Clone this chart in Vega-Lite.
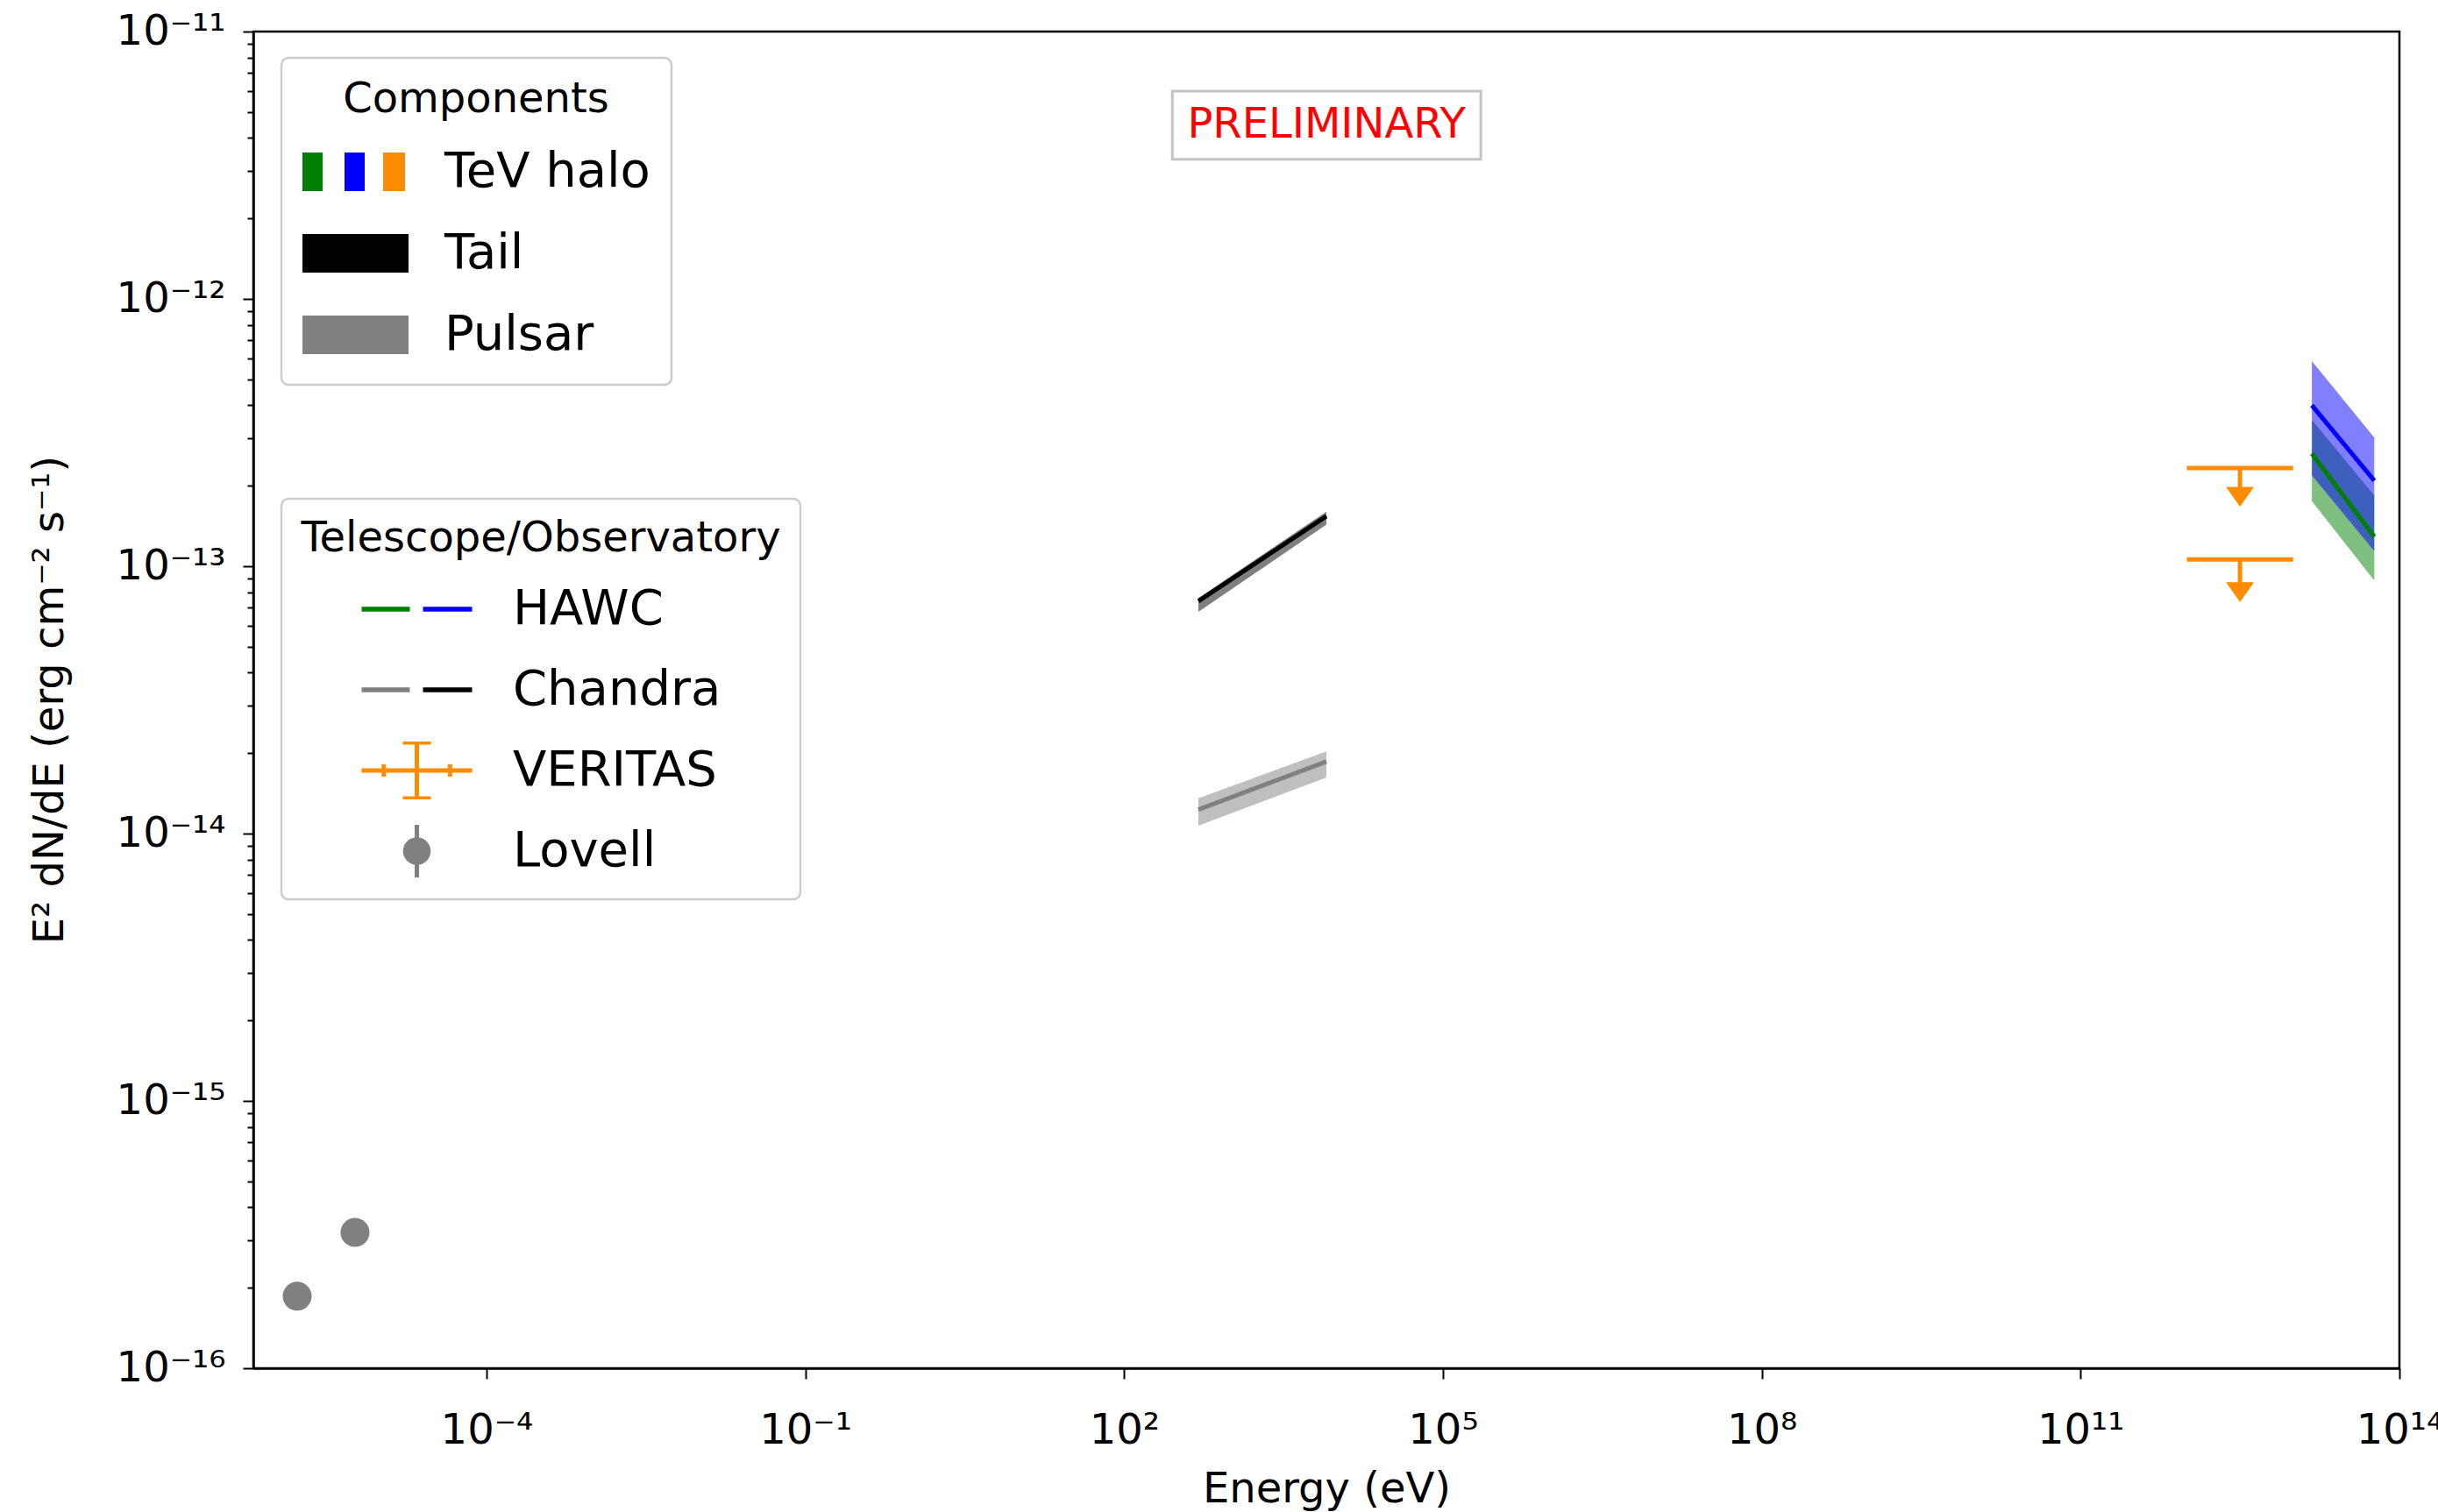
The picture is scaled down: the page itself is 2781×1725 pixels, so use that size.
{
  "$schema": "https://vega.github.io/schema/vega-lite/v6.json",
  "width": 2448,
  "height": 1525,
  "autosize": {"type": "none"},
  "padding": {"left": 289, "top": 36, "right": 44, "bottom": 164},
  "background": "white",
  "config": {
    "font": "DejaVu Sans",
    "view": {"stroke": "black", "strokeWidth": 2.5},
    "axis": {
      "domainColor": "black", "domainWidth": 2.5, "tickColor": "black", "tickWidth": 2,
      "labelColor": "black", "labelFont": "DejaVu Sans", "labelFontSize": 48,
      "titleFont": "DejaVu Sans", "titleFontSize": 48, "titleFontWeight": "normal", "titleColor": "black",
      "grid": false, "labelFlush": false, "labelOverlap": false
    }
  },
  "datasets": {
    "bands": [
      {"series": "HAWC A", "E": 1.5e13, "lo": 1.75e-13, "hi": 3.53e-13},
      {"series": "HAWC A", "E": 5.8e13, "lo": 8.85e-14, "hi": 1.84e-13},
      {"series": "HAWC B", "E": 1.5e13, "lo": 2.19e-13, "hi": 5.85e-13},
      {"series": "HAWC B", "E": 5.8e13, "lo": 1.14e-13, "hi": 3.03e-13},
      {"series": "Chandra tail", "E": 500, "lo": 6.75e-14, "hi": 7.6e-14},
      {"series": "Chandra tail", "E": 8000, "lo": 1.43e-13, "hi": 1.6e-13},
      {"series": "Chandra pulsar", "E": 500, "lo": 1.07e-14, "hi": 1.355e-14},
      {"series": "Chandra pulsar", "E": 8000, "lo": 1.62e-14, "hi": 2.03e-14}
    ],
    "lines": [
      {"series": "HAWC A", "E": 1.5e13, "F": 2.64e-13},
      {"series": "HAWC A", "E": 5.8e13, "F": 1.29e-13},
      {"series": "HAWC B", "E": 1.5e13, "F": 4.0e-13},
      {"series": "HAWC B", "E": 5.8e13, "F": 2.09e-13},
      {"series": "Chandra tail", "E": 500, "F": 7.4e-14},
      {"series": "Chandra tail", "E": 8000, "F": 1.54e-13},
      {"series": "Chandra pulsar", "E": 500, "F": 1.23e-14},
      {"series": "Chandra pulsar", "E": 8000, "F": 1.86e-14}
    ],
    "veritas": [
      {"E": 3.16e12, "E_lo": 1e12, "E_hi": 1e13, "F_ul": 2.33e-13, "F_arrow": 1.82e-13},
      {"E": 3.16e12, "E_lo": 1e12, "E_hi": 1e13, "F_ul": 1.06e-13, "F_arrow": 8.0e-14}
    ],
    "lovell": [
      {"E": 1.654e-6, "F": 1.86e-16},
      {"E": 5.79e-6, "F": 3.22e-16}
    ],
    "components": [{"component": "TeV halo"}, {"component": "Tail"}, {"component": "Pulsar"}],
    "telescopes": [{"telescope": "HAWC"}, {"telescope": "Chandra"}, {"telescope": "VERITAS"}, {"telescope": "Lovell"}],
    "label": [{"text": "PRELIMINARY"}]
  },
  "layer": [
    {
      "data": {"name": "bands"},
      "mark": {"type": "area", "opacity": 0.5},
      "encoding": {
        "x": {
          "field": "E", "type": "quantitative",
          "scale": {"type": "log", "domain": [6.4e-7, 1e14], "nice": false},
          "axis": {
            "orient": "bottom",
            "values": [1e-4, 1e-1, 1e2, 1e5, 1e8, 1e11, 1e14],
            "labelExpr": "['10⁻⁴','10⁻¹','10²','10⁵','10⁸','10¹¹','10¹⁴'][round((log(datum.value)/LN10+4)/3)]",
            "tickSize": 12, "labelPadding": 35,
            "title": "Energy (eV)", "titleY": 138, "titleBaseline": "middle", "titleAlign": "center"
          }
        },
        "y": {
          "field": "lo", "type": "quantitative",
          "scale": {"type": "log", "domain": [1e-16, 1e-11], "nice": false},
          "axis": {
            "orient": "left",
            "values": [1e-16, 1e-15, 1e-14, 1e-13, 1e-12, 1e-11],
            "labelExpr": "['10⁻¹⁶','10⁻¹⁵','10⁻¹⁴','10⁻¹³','10⁻¹²','10⁻¹¹'][round(log(datum.value)/LN10)+16]",
            "tickSize": 12, "labelPadding": 20,
            "title": "E² dN/dE (erg cm⁻² s⁻¹)",
            "titleX": -232, "titleY": 762, "titleAngle": -90, "titleBaseline": "middle", "titleAlign": "center", "titleLimit": 2000
          }
        },
        "y2": {"field": "hi"},
        "color": {
          "field": "series", "type": "nominal",
          "scale": {
            "domain": ["HAWC A", "HAWC B", "Chandra tail", "Chandra pulsar"],
            "range": ["#008000", "#0000ff", "#000000", "#808080"]
          },
          "legend": null
        }
      }
    },
    {
      "data": {"name": "lines"},
      "mark": {"type": "line", "strokeWidth": 5},
      "encoding": {
        "x": {"field": "E", "type": "quantitative"},
        "y": {
          "field": "F", "type": "quantitative",
          "axis": {
            "orient": "left", "title": null, "labels": false, "domain": false, "tickSize": 7,
            "values": [2e-16,3e-16,4e-16,5e-16,6e-16,7e-16,8e-16,9e-16,
                       2e-15,3e-15,4e-15,5e-15,6e-15,7e-15,8e-15,9e-15,
                       2e-14,3e-14,4e-14,5e-14,6e-14,7e-14,8e-14,9e-14,
                       2e-13,3e-13,4e-13,5e-13,6e-13,7e-13,8e-13,9e-13,
                       2e-12,3e-12,4e-12,5e-12,6e-12,7e-12,8e-12,9e-12]
          }
        },
        "color": {"field": "series", "type": "nominal", "legend": null}
      }
    },
    {
      "data": {"name": "veritas"},
      "mark": {"type": "rule", "color": "#ff8c00", "strokeWidth": 5},
      "encoding": {
        "x": {"field": "E_lo", "type": "quantitative"},
        "x2": {"field": "E_hi"},
        "y": {"field": "F_ul", "type": "quantitative", "axis": null}
      }
    },
    {
      "data": {"name": "veritas"},
      "mark": {"type": "rule", "color": "#ff8c00", "strokeWidth": 5},
      "encoding": {
        "x": {"field": "E", "type": "quantitative"},
        "y": {"field": "F_ul", "type": "quantitative", "axis": null},
        "y2": {"field": "F_arrow"}
      }
    },
    {
      "data": {"name": "veritas"},
      "mark": {"type": "point", "shape": "M-1,-0.7L1,-0.7L0,0.7Z", "filled": true, "size": 1024, "color": "#ff8c00", "opacity": 1},
      "encoding": {
        "x": {"field": "E", "type": "quantitative"},
        "y": {"field": "F_arrow", "type": "quantitative", "axis": null}
      }
    },
    {
      "data": {"name": "lovell"},
      "mark": {"type": "point", "shape": "circle", "filled": true, "size": 1089, "color": "#808080", "opacity": 1},
      "encoding": {
        "x": {"field": "E", "type": "quantitative"},
        "y": {"field": "F", "type": "quantitative", "axis": null}
      }
    },
    {
      "data": {"name": "label"},
      "mark": {"type": "rect", "fill": "white", "stroke": "#c4c4c4", "strokeWidth": 3},
      "encoding": {
        "x": {"datum": 284, "type": "quantitative"},
        "x2": {"datum": 227000},
        "y": {"datum": 5.98e-12, "type": "quantitative", "axis": null},
        "y2": {"datum": 3.33e-12}
      }
    },
    {
      "data": {"name": "label"},
      "mark": {"type": "text", "color": "#ff0000", "fontSize": 48, "font": "DejaVu Sans", "align": "center", "baseline": "middle"},
      "encoding": {
        "x": {"datum": 8017, "type": "quantitative"},
        "y": {"datum": 4.46e-12, "type": "quantitative", "axis": null},
        "text": {"field": "text"}
      }
    },
    {
      "data": {"name": "components"},
      "mark": {"type": "point", "opacity": 0},
      "encoding": {
        "shape": {
          "field": "component", "type": "nominal",
          "scale": {
            "domain": ["TeV halo", "Tail", "Pulsar"],
            "range": [
              "M-1,-0.364H-0.62V0.364H-1Z M-0.207,-0.364H0.174V0.364H-0.207Z M0.521,-0.364H0.934V0.364H0.521Z",
              "M-1,-0.364H1V0.364H-1Z",
              "M-1,-0.364H1V0.364H-1Z"
            ]
          },
          "legend": {
            "title": "Components",
            "orient": "none", "legendX": 32, "legendY": 30, "direction": "vertical",
            "padding": 24, "fillColor": "white", "strokeColor": "#cccccc", "cornerRadius": 8,
            "titleFont": "DejaVu Sans", "titleFontSize": 48, "titleFontWeight": "normal", "titleColor": "black",
            "titleAnchor": "middle", "titleAlign": "center", "titlePadding": 25, "titleLimit": 1000,
            "labelFont": "DejaVu Sans", "labelFontSize": 56, "labelColor": "black", "labelLimit": 1000, "labelOffset": 41,
            "symbolSize": 14641, "symbolStrokeWidth": 0, "symbolOffset": 0, "symbolOpacity": 1,
            "clipHeight": 66, "rowPadding": 27,
            "encoding": {
              "symbols": {
                "fill": {
                  "condition": [
                    {"test": "datum.value === 'TeV halo'", "value": {"gradient": "linear", "x1": 0, "y1": 0, "x2": 1, "y2": 0, "stops": [{"offset": 0, "color": "#008000"}, {"offset": 0.3, "color": "#008000"}, {"offset": 0.3, "color": "#0000ff"}, {"offset": 0.7, "color": "#0000ff"}, {"offset": 0.7, "color": "#ff8c00"}, {"offset": 1, "color": "#ff8c00"}]}},
                    {"test": "datum.value === 'Tail'", "value": "#000000"}
                  ],
                  "value": "#808080"
                },
                "stroke": {"value": "transparent"},
                "opacity": {"value": 1}
              },
              "legend": {"strokeWidth": {"value": 2.5}}
            }
          }
        }
      }
    },
    {
      "data": {"name": "telescopes"},
      "mark": {"type": "point", "opacity": 0},
      "encoding": {
        "strokeDash": {
          "field": "telescope", "type": "nominal",
          "scale": {"domain": ["HAWC", "Chandra", "VERITAS", "Lovell"], "range": [[1, 0], [1, 0], [1, 0], [1, 0]]},
          "legend": {
            "title": "Telescope/Observatory",
            "orient": "none", "legendX": 32, "legendY": 533, "direction": "vertical",
            "padding": 22, "fillColor": "white", "strokeColor": "#cccccc", "cornerRadius": 8,
            "titleFont": "DejaVu Sans", "titleFontSize": 48, "titleFontWeight": "normal", "titleColor": "black",
            "titleAnchor": "middle", "titleAlign": "center", "titlePadding": 23, "titleLimit": 1000,
            "labelFont": "DejaVu Sans", "labelFontSize": 56, "labelColor": "black", "labelLimit": 1000, "labelOffset": 44,
            "symbolSize": 15876, "symbolStrokeWidth": 5, "symbolOffset": -1, "symbolOpacity": 1,
            "clipHeight": 66, "rowPadding": 26,
            "encoding": {
              "symbols": {
                "shape": {
                  "condition": [
                    {"test": "datum.value === 'HAWC' || datum.value === 'Chandra'", "value": "M-1,-0.045H-0.127V0.045H-1Z M0.111,-0.045H1V0.045H0.111Z"},
                    {"test": "datum.value === 'VERITAS'", "value": "M-1,0H1M0,-0.508V0.508M-0.254,-0.508H0.254M-0.254,0.508H0.254M-0.6,-0.11V0.11M0.6,-0.11V0.11"}
                  ],
                  "value": "M0,-0.476V0.476M-0.21,0A0.21,0.21,0,1,1,0.21,0A0.21,0.21,0,1,1,-0.21,0Z"
                },
                "fill": {
                  "condition": [
                    {"test": "datum.value === 'HAWC'", "value": {"gradient": "linear", "x1": 0, "y1": 0, "x2": 1, "y2": 0, "stops": [{"offset": 0, "color": "#008000"}, {"offset": 0.5, "color": "#008000"}, {"offset": 0.5, "color": "#0000ff"}, {"offset": 1, "color": "#0000ff"}]}},
                    {"test": "datum.value === 'Chandra'", "value": {"gradient": "linear", "x1": 0, "y1": 0, "x2": 1, "y2": 0, "stops": [{"offset": 0, "color": "#808080"}, {"offset": 0.5, "color": "#808080"}, {"offset": 0.5, "color": "#000000"}, {"offset": 1, "color": "#000000"}]}},
                    {"test": "datum.value === 'VERITAS'", "value": "transparent"}
                  ],
                  "value": "#808080"
                },
                "stroke": {
                  "condition": [
                    {"test": "datum.value === 'VERITAS'", "value": "#ff8c00"},
                    {"test": "datum.value === 'Lovell'", "value": "#808080"}
                  ],
                  "value": "transparent"
                },
                "opacity": {"value": 1}
              },
              "legend": {"strokeWidth": {"value": 2.5}}
            }
          }
        }
      }
    }
  ],
  "resolve": {"axis": {"y": "independent"}}
}
